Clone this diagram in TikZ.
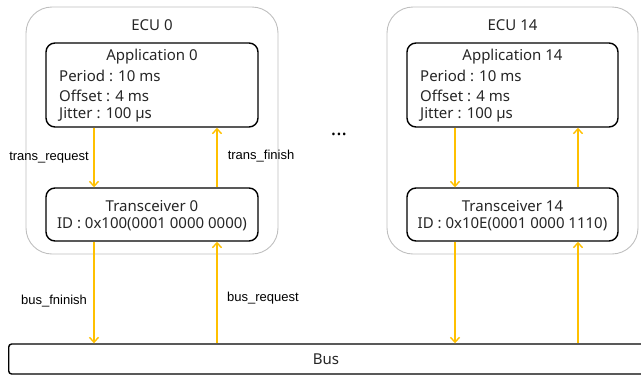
\documentclass[tikz,border=0pt]{standalone}
\usepackage{fontspec}
\setmainfont{Noto Sans}
\newfontfamily\lblfont{Liberation Sans}
\usetikzlibrary{arrows.meta}
\definecolor{arrowc}{HTML}{FFC000}
\definecolor{ecugray}{HTML}{BFBFBF}
\tikzset{
  ecubox/.style={draw=ecugray, line width=0.9pt, rounded corners=26pt},
  blkbox/.style={draw=black, line width=1.4pt, rounded corners=9pt},
  busbox/.style={draw=black, line width=1.4pt, rounded corners=3pt},
  maintxt/.style={font=\fontsize{15}{17}\selectfont, inner sep=0pt, text=black!85},
  lbl/.style={font=\lblfont\fontsize{13}{14}\selectfont, inner sep=0pt, text=black},
  sig/.style={draw=arrowc, line width=2pt, -{Straight Barb[length=5pt,width=9pt,line width=1.4pt]}},
}
\begin{document}
\begin{tikzpicture}[x=1pt,y=-1pt]
\useasboundingbox (0,0) rectangle (641,376);
\clip (0,0) rectangle (641,376);
% ECU 0
\node[ecubox, minimum width=252pt, minimum height=247pt] (ecu0) at (152,130.5) {};
\node[maintxt] (ecu0t) at (152,25) {ECU 0};
\node[blkbox, minimum width=212pt, minimum height=84pt] (app0) at (152,85) {};
\node[maintxt] (app0t) at (152,57) {Application 0};
\node[maintxt, anchor=west] (app0p) at (59,76) {Period : 10 ms};
\node[maintxt, anchor=west] (app0o) at (59,95.5) {Offset : 4 ms};
\node[maintxt, anchor=west] (app0j) at (59,115) {Jitter : 100 µs};
\node[blkbox, minimum width=212pt, minimum height=53pt] (tr0) at (152,214.5) {};
\node[maintxt] (tr0t) at (152,206) {Transceiver 0};
\node[maintxt] (tr0i) at (152,224.5) {ID : 0x100(0001 0000 0000)};
% ECU 14
\node[ecubox, minimum width=251pt, minimum height=247pt] (ecu14) at (512.5,130.5) {};
\node[maintxt] (ecu14t) at (512.5,25) {ECU 14};
\node[blkbox, minimum width=211pt, minimum height=84pt] (app14) at (512.5,85) {};
\node[maintxt] (app14t) at (512.5,57) {Application 14};
\node[maintxt, anchor=west] (app14p) at (420,76) {Period : 10 ms};
\node[maintxt, anchor=west] (app14o) at (420,95.5) {Offset : 4 ms};
\node[maintxt, anchor=west] (app14j) at (420,115) {Jitter : 100 µs};
\node[blkbox, minimum width=211pt, minimum height=53pt] (tr14) at (512.5,214.5) {};
\node[maintxt] (tr14t) at (512.5,206) {Transceiver 14};
\node[maintxt] (tr14i) at (512.5,224.5) {ID : 0x10E(0001 0000 1110)};
% dots
\node[font=\bfseries\fontsize{20}{20}\selectfont, inner sep=0pt] (dots) at (339,134) {...};
% Bus
\node[busbox, minimum width=650pt, minimum height=30pt, anchor=west] (bus) at (8,359) {};
\node[maintxt] (bust) at (326,359) {Bus};
% arrows ECU 0
\draw[sig] (app0.south -| 94,0) -- (tr0.north -| 94,0);
\draw[sig] (tr0.north -| 217,0) -- (app0.south -| 217,0);
\draw[sig] (tr0.south -| 94,0) -- (bus.north -| 94,0);
\draw[sig] (bus.north -| 217,0) -- (tr0.south -| 217,0);
% arrows ECU 14
\draw[sig] (app14.south -| 455,0) -- (tr14.north -| 455,0);
\draw[sig] (tr14.north -| 578,0) -- (app14.south -| 578,0);
\draw[sig] (tr14.south -| 455,0) -- (bus.north -| 455,0);
\draw[sig] (bus.north -| 578,0) -- (tr14.south -| 578,0);
% labels
\node[lbl] (l1) at (49,158) {trans\_request};
\node[lbl] (l2) at (261,156.5) {trans\_finish};
\node[lbl] (l3) at (54,301) {bus\_fninish};
\node[lbl] (l4) at (263,298) {bus\_request};
\end{tikzpicture}
\end{document}
